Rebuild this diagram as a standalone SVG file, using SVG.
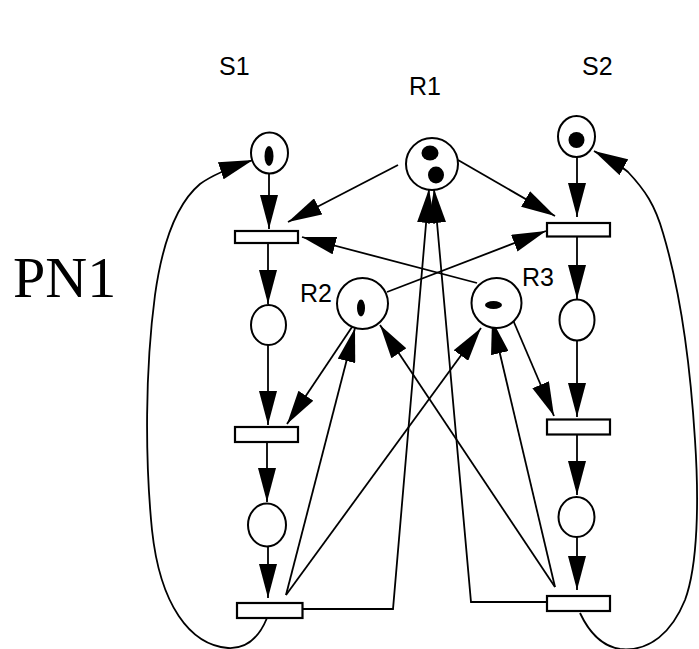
<svg xmlns="http://www.w3.org/2000/svg" width="699" height="649" viewBox="0 0 699 649">
<style>
.pl{fill:#fff;stroke:#000;stroke-width:2}
.tr{fill:#fff;stroke:#000;stroke-width:2.2}
.tk{fill:#000}
.lbl{font-family:"Liberation Sans",Arial,sans-serif;font-size:25px;fill:#000}
.big{font-family:"Liberation Serif","Times New Roman",serif;font-size:58px;fill:#000}
.c{fill:none;stroke:#000;stroke-width:1.8;marker-end:url(#ah)}
.n{fill:none;stroke:#000;stroke-width:1.8}
</style>
<defs>
<marker id="ah" markerUnits="userSpaceOnUse" markerWidth="34" markerHeight="18" refX="34" refY="9" orient="auto" viewBox="0 0 34 18">
<path d="M0,0 L34,9 L0,18 z" fill="#000"/>
</marker>
</defs>
<rect width="699" height="649" fill="#fff"/>
<text class="big" x="13" y="297">PN1</text>
<g id="connectors">
<line class="c" x1="269" y1="174" x2="269" y2="229"/>
<line class="c" x1="268" y1="243" x2="268" y2="304"/>
<line class="c" x1="268" y1="345" x2="268" y2="425"/>
<line class="c" x1="267" y1="442" x2="267" y2="502"/>
<line class="c" x1="268" y1="547" x2="268" y2="598"/>
<line class="c" x1="577" y1="157" x2="577" y2="217"/>
<line class="c" x1="577" y1="237" x2="577" y2="299"/>
<line class="c" x1="577" y1="341" x2="577" y2="417"/>
<line class="c" x1="577" y1="435" x2="577" y2="495"/>
<line class="c" x1="577" y1="537" x2="577" y2="590"/>
<line class="c" x1="398" y1="165" x2="288" y2="222"/>
<line class="c" x1="458" y1="160" x2="555" y2="216"/>
<line class="c" x1="387" y1="292" x2="546" y2="231"/>
<line class="c" x1="477" y1="283" x2="302" y2="237"/>
<line class="c" x1="352" y1="327" x2="287" y2="424"/>
<line class="c" x1="513" y1="320" x2="554" y2="416"/>
<line class="c" x1="286" y1="595" x2="355" y2="328"/>
<line class="c" x1="286" y1="595" x2="481" y2="328"/>
<line class="c" x1="555" y1="587" x2="380" y2="325"/>
<line class="c" x1="555" y1="587" x2="492" y2="320"/>
<polyline class="c" points="303,609 393,609 429,189"/>
<polyline class="c" points="547,602 471,602 434,189"/>
<path class="c" d="M267,618 C258,640 245,649 228,648 C190,645 160,605 152,530 C145,460 145,370 155,295 C162,245 175,205 200,184 C215,173 235,166 253,160"/>
<path class="c" d="M580,613 C588,630 600,646 620,649 C650,652 672,632 685,600 C698,565 699,500 695,440 C690,360 680,290 663,233 C655,205 645,190 628,172 C620,165 605,157 594,151"/>
</g>
<g id="S1"><ellipse class="pl" cx="269.5" cy="153" rx="18.5" ry="20.5"/><ellipse class="tk" cx="269" cy="156" rx="4.5" ry="10"/><text class="lbl" x="219" y="75">S1</text></g>
<g id="S2"><ellipse class="pl" cx="576.5" cy="136.5" rx="18.5" ry="20.5"/><circle class="tk" cx="576.5" cy="140" r="8"/><text class="lbl" x="582" y="75">S2</text></g>
<g id="R1"><circle class="pl" cx="432" cy="164" r="26"/><ellipse class="tk" cx="430" cy="153" rx="8.5" ry="7.5"/><ellipse class="tk" cx="436" cy="175" rx="8" ry="8.5"/><text class="lbl" x="409" y="95">R1</text></g>
<g id="R2"><circle class="pl" cx="362.5" cy="303.5" r="25.5"/><ellipse class="tk" cx="361" cy="308" rx="4" ry="8.5"/><text class="lbl" x="300" y="302">R2</text></g>
<g id="R3"><circle class="pl" cx="496.5" cy="303" r="25"/><ellipse class="tk" cx="493.5" cy="305" rx="8.5" ry="4"/><text class="lbl" x="522" y="286">R3</text></g>
<g id="P1"><ellipse class="pl" cx="268.5" cy="325" rx="17.5" ry="20"/></g>
<g id="P2"><ellipse class="pl" cx="267" cy="525" rx="19" ry="21.5"/></g>
<g id="P3"><ellipse class="pl" cx="577" cy="320" rx="17.5" ry="20.5"/></g>
<g id="P4"><ellipse class="pl" cx="576.5" cy="517" rx="18" ry="20"/></g>
<g id="T1"><rect class="tr" x="235" y="231" width="63" height="12"/></g>
<g id="T2"><rect class="tr" x="547" y="223" width="63" height="13.5"/></g>
<g id="T3"><rect class="tr" x="235" y="427" width="63" height="15"/></g>
<g id="T4"><rect class="tr" x="547" y="419.5" width="63" height="15"/></g>
<g id="T5"><rect class="tr" x="237" y="603" width="65.5" height="15"/></g>
<g id="T6"><rect class="tr" x="547" y="596" width="63" height="15"/></g>
</svg>
